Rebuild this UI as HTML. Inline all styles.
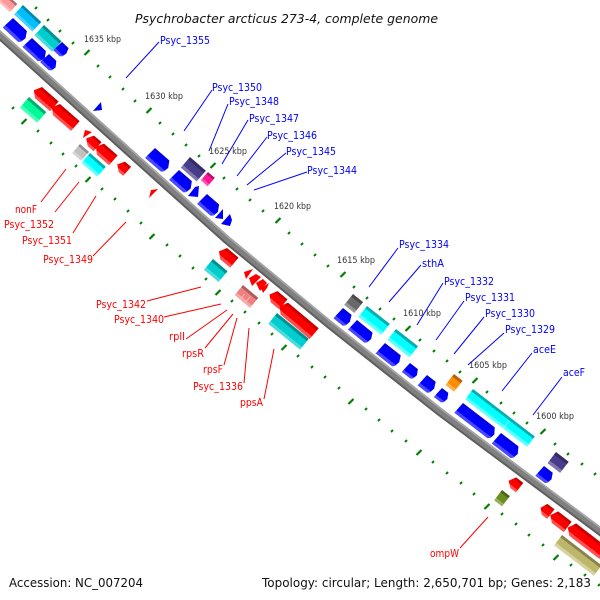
<!DOCTYPE html>
<html><head><meta charset="utf-8"><style>
html,body{margin:0;padding:0;background:#fff}
svg{display:block}
text{font-family:"DejaVu Sans","Liberation Sans",sans-serif}
.b{fill:#00f;font-size:10.5px}.r{fill:#f00;font-size:10.5px}
.k{fill:#333;font-size:8.5px}
.t{fill:#111;font-size:12.5px}
</style></head><body>
<svg width="600" height="600" viewBox="0 0 600 600" xmlns="http://www.w3.org/2000/svg">
<defs>
<linearGradient id="blue" x1="0" y1="0" x2="0" y2="1"><stop offset=".22" stop-color="#0000e0"/><stop offset=".22" stop-color="#00f"/><stop offset=".76" stop-color="#00f"/><stop offset=".76" stop-color="#4848ff"/></linearGradient>
<linearGradient id="red" x1="0" y1="0" x2="0" y2="1"><stop offset=".22" stop-color="#cc0000"/><stop offset=".22" stop-color="#f00"/><stop offset=".76" stop-color="#f00"/><stop offset=".76" stop-color="#ff5050"/></linearGradient>
<linearGradient id="cyan" x1="0" y1="0" x2="0" y2="1"><stop offset=".22" stop-color="#00b0b0"/><stop offset=".22" stop-color="#0ff"/><stop offset=".76" stop-color="#0ff"/><stop offset=".76" stop-color="#60ffff"/></linearGradient>
<linearGradient id="sky" x1="0" y1="0" x2="0" y2="1"><stop offset=".22" stop-color="#0088b4"/><stop offset=".22" stop-color="#00bfff"/><stop offset=".76" stop-color="#00bfff"/><stop offset=".76" stop-color="#48d0ff"/></linearGradient>
<linearGradient id="turq" x1="0" y1="0" x2="0" y2="1"><stop offset=".22" stop-color="#009090"/><stop offset=".22" stop-color="#00cdcd"/><stop offset=".76" stop-color="#00cdcd"/><stop offset=".76" stop-color="#48dcdc"/></linearGradient>
<linearGradient id="spring" x1="0" y1="0" x2="0" y2="1"><stop offset=".22" stop-color="#00b070"/><stop offset=".22" stop-color="#00fa9a"/><stop offset=".76" stop-color="#00fa9a"/><stop offset=".76" stop-color="#48ffb8"/></linearGradient>
<linearGradient id="slate" x1="0" y1="0" x2="0" y2="1"><stop offset=".22" stop-color="#332b62"/><stop offset=".22" stop-color="#483d8b"/><stop offset=".76" stop-color="#483d8b"/><stop offset=".76" stop-color="#7d75ab"/></linearGradient>
<linearGradient id="pink" x1="0" y1="0" x2="0" y2="1"><stop offset=".22" stop-color="#b00e68"/><stop offset=".22" stop-color="#ff1493"/><stop offset=".76" stop-color="#ff1493"/><stop offset=".76" stop-color="#ff55b0"/></linearGradient>
<linearGradient id="silver" x1="0" y1="0" x2="0" y2="1"><stop offset=".22" stop-color="#909090"/><stop offset=".22" stop-color="#c0c0c0"/><stop offset=".76" stop-color="#c0c0c0"/><stop offset=".76" stop-color="#d4d4d4"/></linearGradient>
<linearGradient id="gray" x1="0" y1="0" x2="0" y2="1"><stop offset=".22" stop-color="#4a4a4a"/><stop offset=".22" stop-color="#696969"/><stop offset=".76" stop-color="#696969"/><stop offset=".76" stop-color="#969696"/></linearGradient>
<linearGradient id="orange" x1="0" y1="0" x2="0" y2="1"><stop offset=".22" stop-color="#b86400"/><stop offset=".22" stop-color="#ff8c00"/><stop offset=".76" stop-color="#ff8c00"/><stop offset=".76" stop-color="#ffb048"/></linearGradient>
<linearGradient id="olive" x1="0" y1="0" x2="0" y2="1"><stop offset=".22" stop-color="#4c6619"/><stop offset=".22" stop-color="#6b8e23"/><stop offset=".76" stop-color="#6b8e23"/><stop offset=".76" stop-color="#97b060"/></linearGradient>
<linearGradient id="khaki" x1="0" y1="0" x2="0" y2="1"><stop offset=".22" stop-color="#88834d"/><stop offset=".22" stop-color="#bdb76b"/><stop offset=".76" stop-color="#bdb76b"/><stop offset=".76" stop-color="#d6d2a0"/></linearGradient>
<linearGradient id="coral" x1="0" y1="0" x2="0" y2="1"><stop offset=".22" stop-color="#ad5c5c"/><stop offset=".22" stop-color="#f08080"/><stop offset=".76" stop-color="#f08080"/><stop offset=".76" stop-color="#f5a8a8"/></linearGradient>
<linearGradient id="lpink" x1="0" y1="0" x2="0" y2="1"><stop offset=".22" stop-color="#b06e6e"/><stop offset=".22" stop-color="#f99"/><stop offset=".76" stop-color="#f99"/><stop offset=".76" stop-color="#ffb8b8"/></linearGradient>
</defs>

<!-- backbone -->
<g fill="none" stroke-linejoin="round">
<polyline stroke="#808080" stroke-width="7" points="-5,31 130,153 227,240 330,325 440,412 605,535"/>
<polyline stroke="#a4a4a4" stroke-width="2" points="-3,28.500 132,150.500 229,237.500 332,322.500 442,409.500 607,532.500"/>
<polyline stroke="#5e5e5e" stroke-width="2" points="-7,33.500 128,155.500 225,242.500 328,327.500 438,414.500 603,537.500"/>
</g>

<!-- ticks -->
<g stroke="#008000" stroke-width="2" fill="none">
<path d="M35 9l2-2M47 21l2-2M59 32l2-2M72 44l2-2M97 67l2-2M109 78l2-2M122 90l2-2M134 102l2-2M159 124l2-2M172 135l2-2M185 146l2-2M198 157l2-2M223 179l2-2M236 190l2-2M249 201l2-2M262 212l2-2M288 234l2-2M301 245l2-2M314 256l2-2M327 267l2-2M353 288l2-2M366 299l2-2M379 310l2-2M393 320l2-2M419 341l2-2M433 352l2-2M446 362l2-2M459 373l2-2M486 393l2-2M500 404l2-2M513 414l2-2M526 424l2-2M554 445l2-2M567 455l2-2M581 465l2-2M594 475l2-2"/>
<path d="M12 109l2-2M37 132l2-2M50 144l2-2M62 155l2-2M75 167l2-2M101 190l2-2M114 200l2-2M127 212l2-2M140 224l2-2M166 246l2-2M179 257l2-2M192 269l2-2M205 280l2-2M231 302l2-2M244 313l2-2M258 324l2-2M271 335l2-2M297 357l2-2M311 368l2-2M324 378l2-2M338 389l2-2M365 410l2-2M378 421l2-2M391 432l2-2M405 442l2-2M432 463l2-2M446 474l2-2M460 484l2-2M473 495l2-2M501 515l2-2M515 525l2-2M528 536l2-2M542 546l2-2M570 566l2-2M584 576l2-2M598 586l2-2"/>
<path stroke-width="2.200" d="M84.500 55l5-5M146.500 113l5-5M210.500 168l5-5M275.500 223l5-5M340.500 277l5-5M405.500 331l5-5M472.500 383l5-5M540.500 434l5-5"/>
<path stroke-width="2.200" d="M21.500 124l5-5M85.500 182l5-5M149.500 239l5-5M215.500 295l5-5M281.500 350l5-5M348.500 404l5-5M416.500 455l5-5M484.500 509l5-5M553.500 560l5-5"/>
</g>

<!-- genes, upper-left -->
<g transform="translate(-1,-13) rotate(43)"><rect width="25" height="11" fill="url(#lpink)"/></g>
<g transform="translate(-10,4) rotate(43)"><polygon fill="url(#blue)" points="0,0 12,0 15,5.400 14,10.200 12,12 -1,12"/></g>
<g transform="translate(23,5) rotate(43)"><rect width="25" height="13" fill="url(#sky)"/></g>
<g transform="translate(44,25) rotate(43)"><rect width="24" height="14" fill="url(#turq)"/></g>
<g transform="translate(62,42) rotate(43)"><polygon fill="url(#blue)" points="0,0 9,0 11,5.400 10,10.200 8,12 -1,12"/></g>
<g transform="translate(13,18) rotate(43)"><polygon fill="url(#blue)" points="0,0 19,0 23,6.300 22,11.900 20,14 -1,14"/></g>
<g transform="translate(32,38) rotate(43)"><polygon fill="url(#blue)" points="0,0 19,0 23,5.900 22,11 20,13 -1,13"/></g>
<g transform="translate(49,54) rotate(43)"><polygon fill="url(#blue)" points="0,0 10,0 14,5.400 13,10.200 11,12 -1,12"/></g>

<g transform="translate(29,97) rotate(41)"><rect width="23" height="14" fill="url(#spring)"/></g>
<g transform="translate(39,84.400) rotate(41)"><polygon fill="url(#red)" points="4,0 26,0 26,13 6,13 0,7.800"/></g>
<g transform="translate(57,101.400) rotate(41)"><polygon fill="url(#red)" points="4,0 30,0 30,13 6,13 0,7.800"/></g>
<polygon fill="#0000e8" points="101,102 93,111 102,110"/>
<polygon fill="#f00" points="83,138 92,132 85,130"/>
<g transform="translate(91,133) rotate(41)"><polygon fill="url(#red)" points="4,0 14,0 14,12 6,12 0,7.200"/></g>
<g transform="translate(101,141) rotate(41)"><polygon fill="url(#red)" points="4,0 22,0 22,13 6,13 0,7.800"/></g>
<g transform="translate(80,144) rotate(41)"><rect width="12" height="12" fill="url(#silver)"/></g>
<g transform="translate(90,153) rotate(41)"><rect width="21" height="13" fill="url(#cyan)"/></g>
<g transform="translate(122,159) rotate(41)"><polygon fill="url(#red)" points="4,0 12,0 12,12 6,12 0,7.200"/></g>
<polygon fill="#f00" points="149,198 158,189 151,190"/>

<!-- middle -->
<g transform="translate(155,148) rotate(41)"><polygon fill="url(#blue)" points="0,0 19,0 23,6.300 22,11.900 20,14 -1,14"/></g>
<g transform="translate(190,157) rotate(41)"><rect width="21" height="14" fill="url(#slate)"/></g>
<g transform="translate(179,170) rotate(41)"><polygon fill="url(#blue)" points="0,0 17,0 21,6.300 20,11.900 18,14 -1,14"/></g>
<g transform="translate(208,172) rotate(41)"><rect width="9" height="11" fill="url(#pink)"/></g>
<polygon fill="#00f" points="195,187 199,186 198,197 188,196"/>
<g transform="translate(207,194) rotate(41)"><polygon fill="url(#blue)" points="0,0 16,0 20,6.300 19,11.900 17,14 -1,14"/></g>
<polygon fill="#00f" points="223,209 215,218 223,219"/>
<polygon fill="#00f" points="230,214 221,224 230,226 232,220"/>
<g transform="translate(224,245.400) rotate(40)"><polygon fill="url(#red)" points="4,0 19,0 19,13 6,13 0,7.800"/></g>
<g transform="translate(213,259) rotate(40)"><rect width="19" height="14" fill="url(#turq)"/></g>
<polygon fill="#f00" points="253,269 244,272 246,279"/>
<polygon fill="#f00" points="256,274 249,278 252,286 261,277"/>
<polygon fill="#f00" points="263,279 256,283 260,291 267,283"/>
<polygon fill="#f00" points="269,283 261,288 263,293 267,288"/>
<g transform="translate(243,285) rotate(40)"><rect width="20" height="13" fill="url(#coral)"/><path d="M7 6v7M13 4v9" stroke="#f8c0c0" stroke-width=".8"/></g>
<g transform="translate(274.500,288.500) rotate(40)"><polygon fill="url(#red)" points="4,0 17,0 17,13 6,13 0,7.800"/></g>
<g transform="translate(285,300) rotate(40)"><polygon fill="url(#red)" points="4,0 44,0 44,14 6,14 0,8.400"/></g>
<g transform="translate(277,313) rotate(39)"><rect width="41" height="14" fill="url(#turq)"/></g>

<!-- right -->
<g transform="translate(353,294) rotate(39)"><rect width="13" height="14" fill="url(#gray)"/></g>
<g transform="translate(367,306) rotate(38)"><rect width="29" height="14" fill="url(#cyan)"/></g>
<g transform="translate(396,329) rotate(38)"><rect width="28" height="14" fill="url(#cyan)"/></g>
<g transform="translate(343,308) rotate(39)"><polygon fill="url(#blue)" points="0,0 11,0 14,6.300 13,11.900 11,14 -1,14"/></g>
<g transform="translate(357,320) rotate(39)"><polygon fill="url(#blue)" points="0,0 20,0 23,5.900 22,11 20,13 -1,13"/></g>
<g transform="translate(385,343) rotate(38)"><polygon fill="url(#blue)" points="0,0 20,0 23,6.300 22,11.900 20,14 -1,14"/></g>
<g transform="translate(410,363) rotate(38)"><polygon fill="url(#blue)" points="0,0 10,0 13,5.400 12,10.200 10,12 -1,12"/></g>
<g transform="translate(427,375) rotate(38)"><polygon fill="url(#blue)" points="0,0 11,0 14,6.300 13,11.900 11,14 -1,14"/></g>
<g transform="translate(442,388) rotate(38)"><polygon fill="url(#blue)" points="0,0 8,0 11,5.400 10,10.200 8,12 -1,12"/></g>
<g transform="translate(454,374) rotate(38)"><rect width="11" height="14" fill="url(#orange)"/></g>
<g transform="translate(473,389) rotate(37.500)"><rect width="78" height="13" fill="url(#cyan)"/><path d="M48 3v10" stroke="#b0ffff" stroke-width=".8"/></g>
<g transform="translate(463,403) rotate(37.500)"><polygon fill="url(#blue)" points="0,0 40,0 44,5.900 43,11 41,13 -1,13"/></g>
<g transform="translate(501,433) rotate(37.500)"><polygon fill="url(#blue)" points="0,0 22,0 26,6.300 25,11.900 23,14 -1,14"/></g>
<g transform="translate(556,452) rotate(37.500)"><rect width="16" height="14" fill="url(#slate)"/></g>
<g transform="translate(544,466) rotate(37.500)"><polygon fill="url(#blue)" points="0,0 11,0 14,5.900 13,11 11,13 -1,13"/></g>
<g transform="translate(513,475) rotate(37.500)"><polygon fill="url(#red)" points="4,0 13,0 13,12 6,12 0,7.200"/></g>
<g transform="translate(502,490) rotate(37.500)"><rect width="10" height="13" fill="url(#olive)"/></g>
<g transform="translate(545,502) rotate(37.500)"><polygon fill="url(#red)" points="3,0 12,0 12,12 5,12 0,7.200"/></g>
<g transform="translate(555,509) rotate(37.500)"><polygon fill="url(#red)" points="4,0 21,0 21,13 6,13 0,7.800"/></g>
<g transform="translate(573,521) rotate(37.500)"><polygon fill="url(#red)" points="4,0 44,0 44,14 6,14 0,8.400"/></g>
<g transform="translate(562,535) rotate(37.500)"><rect width="50" height="13" fill="url(#khaki)"/></g>

<!-- leader lines -->
<g stroke="#00f" stroke-width="1" fill="none">
<path d="M126 78L159 42M184 131L212 90M209 151L228 104M222 164L248 120M237 176L267 137M247 185L286 153M254 190L307 172M369 287L398 248M389 302L421 265M417 325L443 283M436 340L464 301M454 354L484 317M468 365L504 333M502 391L532 353M533 415L562 377"/>
</g>
<g stroke="#f00" stroke-width="1" fill="none">
<path d="M488 517L460 548M66 169L41 202M79 182L55 212M96 196L73 233M126 222L93 256M201 287L147 301M221 304L164 317M227 310L186 339M233 314L205 348M237 318L224 365M249 328L244 383M274 349L264 399"/>
</g>

<!-- labels -->
<text class="t" x="135" y="23" font-style="italic" textLength="303" lengthAdjust="spacingAndGlyphs">Psychrobacter arcticus 273-4, complete genome</text>
<text class="t" x="9" y="587" textLength="134" lengthAdjust="spacingAndGlyphs">Accession: NC_007204</text>
<text class="t" x="262" y="587" textLength="329" lengthAdjust="spacingAndGlyphs">Topology: circular; Length: 2,650,701 bp; Genes: 2,183</text>

<g>
<text class="k" x="84" y="42" textLength="37" lengthAdjust="spacingAndGlyphs">1635 kbp</text>
<text class="k" x="145" y="99" textLength="38" lengthAdjust="spacingAndGlyphs">1630 kbp</text>
<text class="k" x="209" y="154" textLength="38" lengthAdjust="spacingAndGlyphs">1625 kbp</text>
<text class="k" x="274" y="209" textLength="37" lengthAdjust="spacingAndGlyphs">1620 kbp</text>
<text class="k" x="337" y="263" textLength="38" lengthAdjust="spacingAndGlyphs">1615 kbp</text>
<text class="k" x="403" y="316" textLength="38" lengthAdjust="spacingAndGlyphs">1610 kbp</text>
<text class="k" x="469" y="368" textLength="38" lengthAdjust="spacingAndGlyphs">1605 kbp</text>
<text class="k" x="536" y="419" textLength="38" lengthAdjust="spacingAndGlyphs">1600 kbp</text>
</g>

<g>
<text class="b" x="160" y="44" textLength="50" lengthAdjust="spacingAndGlyphs">Psyc_1355</text>
<text class="b" x="212" y="91" textLength="50" lengthAdjust="spacingAndGlyphs">Psyc_1350</text>
<text class="b" x="229" y="105" textLength="50" lengthAdjust="spacingAndGlyphs">Psyc_1348</text>
<text class="b" x="249" y="122" textLength="50" lengthAdjust="spacingAndGlyphs">Psyc_1347</text>
<text class="b" x="267" y="139" textLength="50" lengthAdjust="spacingAndGlyphs">Psyc_1346</text>
<text class="b" x="286" y="155" textLength="50" lengthAdjust="spacingAndGlyphs">Psyc_1345</text>
<text class="b" x="307" y="174" textLength="50" lengthAdjust="spacingAndGlyphs">Psyc_1344</text>
<text class="b" x="399" y="248" textLength="50" lengthAdjust="spacingAndGlyphs">Psyc_1334</text>
<text class="b" x="422" y="267" textLength="22" lengthAdjust="spacingAndGlyphs">sthA</text>
<text class="b" x="444" y="285" textLength="50" lengthAdjust="spacingAndGlyphs">Psyc_1332</text>
<text class="b" x="465" y="301" textLength="50" lengthAdjust="spacingAndGlyphs">Psyc_1331</text>
<text class="b" x="485" y="317" textLength="50" lengthAdjust="spacingAndGlyphs">Psyc_1330</text>
<text class="b" x="505" y="333" textLength="50" lengthAdjust="spacingAndGlyphs">Psyc_1329</text>
<text class="b" x="533" y="353" textLength="23" lengthAdjust="spacingAndGlyphs">aceE</text>
<text class="b" x="563" y="376" textLength="22" lengthAdjust="spacingAndGlyphs">aceF</text>
</g>

<g>
<text class="r" x="15" y="213" textLength="22" lengthAdjust="spacingAndGlyphs">nonF</text>
<text class="r" x="4" y="228" textLength="50" lengthAdjust="spacingAndGlyphs">Psyc_1352</text>
<text class="r" x="22" y="244" textLength="50" lengthAdjust="spacingAndGlyphs">Psyc_1351</text>
<text class="r" x="43" y="263" textLength="50" lengthAdjust="spacingAndGlyphs">Psyc_1349</text>
<text class="r" x="96" y="308" textLength="50" lengthAdjust="spacingAndGlyphs">Psyc_1342</text>
<text class="r" x="114" y="323" textLength="50" lengthAdjust="spacingAndGlyphs">Psyc_1340</text>
<text class="r" x="169" y="340" textLength="16" lengthAdjust="spacingAndGlyphs">rplI</text>
<text class="r" x="182" y="357" textLength="22" lengthAdjust="spacingAndGlyphs">rpsR</text>
<text class="r" x="203" y="373" textLength="20" lengthAdjust="spacingAndGlyphs">rpsF</text>
<text class="r" x="193" y="390" textLength="50" lengthAdjust="spacingAndGlyphs">Psyc_1336</text>
<text class="r" x="240" y="406" textLength="23" lengthAdjust="spacingAndGlyphs">ppsA</text>
<text class="r" x="430" y="557" textLength="29" lengthAdjust="spacingAndGlyphs">ompW</text>
</g>
</svg>
</body></html>
